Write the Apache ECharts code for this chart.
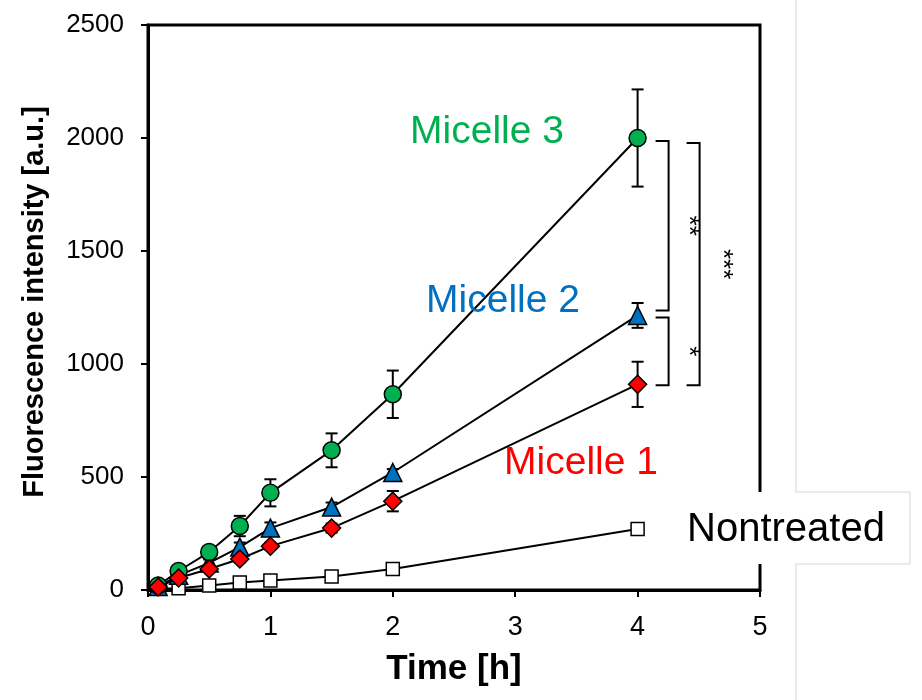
<!DOCTYPE html>
<html>
<head>
<meta charset="utf-8">
<script src="https://cdn.jsdelivr.net/npm/echarts@6/dist/echarts.min.js"></script>
<style>
  html, body { margin: 0; padding: 0; background: #fff; }
  #main { width: 922px; height: 700px; }
</style>
</head>
<body>
<div id="main"></div>
<script>
// 数据
var times = [0.083, 0.25, 0.5, 0.75, 1, 1.5, 2, 4];
var micelle3 = [20, 84, 168, 283, 430, 618, 866, 2000];
var micelle3Err = [5, 10, 20, 45, 60, 75, 105, 215];
var micelle2 = [15, 65, 120, 190, 274, 367, 520, 1215];
var micelle2Err = [5, 8, 15, 20, 25, 20, 15, 55];
var micelle1 = [13, 53, 93, 137, 194, 274, 393, 910];
var micelle1Err = [5, 8, 10, 15, 15, 20, 45, 100];
var nontreated = [5, 8, 20, 33, 42, 60, 93, 270];
var nontreatedErr = [2, 3, 3, 5, 5, 5, 8, 10];
var xTicks = [0, 1, 2, 3, 4, 5];
var yTicks = [0, 500, 1000, 1500, 2000, 2500];

var FONT = '"Liberation Sans", Arial, sans-serif';

function pairs(vals) {
  return times.map(function (t, i) { return [t, vals[i]]; });
}

// 误差线
function errSeries(vals, errs) {
  return {
    type: 'custom',
    z: 1,
    silent: true,
    data: times.map(function (t, i) { return [t, vals[i] - errs[i], vals[i] + errs[i]]; }),
    renderItem: function (params, api) {
      var lo = api.coord([api.value(0), api.value(1)]);
      var hi = api.coord([api.value(0), api.value(2)]);
      var cap = 6;
      var st = { stroke: '#000', lineWidth: 2 };
      return {
        type: 'group',
        children: [
          { type: 'line', shape: { x1: lo[0], y1: lo[1], x2: hi[0], y2: hi[1] }, style: st },
          { type: 'line', shape: { x1: lo[0] - cap, y1: lo[1], x2: lo[0] + cap, y2: lo[1] }, style: st },
          { type: 'line', shape: { x1: hi[0] - cap, y1: hi[1], x2: hi[0] + cap, y2: hi[1] }, style: st }
        ]
      };
    }
  };
}

function lineSeries(vals, symbol, size, color, z) {
  return {
    type: 'line',
    data: pairs(vals),
    symbol: symbol,
    symbolSize: size,
    showAllSymbol: true,
    z: z,
    lineStyle: { color: '#000', width: 2 },
    itemStyle: { color: color, borderColor: '#000', borderWidth: 1.5 }
  };
}

var myChart = echarts.init(document.getElementById('main'));
var option = {
  animation: false,
  backgroundColor: '#fff',
  grid: {
    left: 148, right: 162, top: 25, bottom: 110,
    show: true, borderColor: '#000', borderWidth: 3
  },
  xAxis: {
    type: 'value',
    min: xTicks[0], max: xTicks[xTicks.length - 1], interval: 1,
    name: 'Time [h]',
    nameLocation: 'middle',
    nameGap: 62,
    nameTextStyle: { fontFamily: FONT, fontWeight: 'bold', fontSize: 35, color: '#000' },
    axisLine: { lineStyle: { color: '#000', width: 3 } },
    axisTick: { inside: false, length: 7, lineStyle: { color: '#000', width: 2 } },
    axisLabel: { fontFamily: FONT, fontSize: 27, color: '#000', margin: 24 },
    splitLine: { show: false }
  },
  yAxis: {
    type: 'value',
    min: yTicks[0], max: yTicks[yTicks.length - 1], interval: 500,
    axisLine: { lineStyle: { color: '#000', width: 3 } },
    axisTick: { inside: false, length: 7, lineStyle: { color: '#000', width: 2 } },
    axisLabel: {
      fontFamily: FONT, fontSize: 26, color: '#000', margin: 24,
      formatter: function (v) { return String(v); }
    },
    splitLine: { show: false }
  },
  series: [
    errSeries(nontreated, nontreatedErr),
    errSeries(micelle2, micelle2Err),
    errSeries(micelle3, micelle3Err),
    errSeries(micelle1, micelle1Err),
    lineSeries(nontreated, 'rect', 13, '#fff', 2),
    lineSeries(micelle2, 'triangle', 18, '#0070C0', 3),
    lineSeries(micelle3, 'circle', 17, '#00B050', 4),
    lineSeries(micelle1, 'diamond', 18, '#FF0000', 5)
  ]
};
myChart.setOption(option);

// 标注: 显著性括号、标签、边框
var x4 = myChart.convertToPixel({ gridIndex: 0 }, [4, 0])[0];
function py(v) { return myChart.convertToPixel({ gridIndex: 0 }, [0, v])[1]; }

var brackets = [
  { top: micelle3[7], bot: micelle2[7], tOff: 3, bOff: -5, dx: 18, tx: 51, text: '**' },
  { top: micelle2[7], bot: micelle1[7], tOff: 2, bOff: 1, dx: 18, tx: 51, text: '*' },
  { top: micelle3[7], bot: micelle1[7], tOff: 5, bOff: 1, dx: 49, tx: 85, text: '***' }
];

var elements = [];
brackets.forEach(function (b) {
  var yt = py(b.top) + b.tOff, yb = py(b.bot) + b.bOff;
  var x0 = x4 + b.dx, x1 = x0 + 13;
  elements.push({
    type: 'polyline', z: 10,
    shape: { points: [[x0, yt], [x1, yt], [x1, yb], [x0, yb]] },
    style: { stroke: '#000', lineWidth: 2, fill: null }
  });
  elements.push({
    type: 'text', z: 10,
    x: x4 + b.tx, y: (yt + yb) / 2, rotation: -Math.PI / 2,
    style: { text: b.text, fontFamily: FONT, fontSize: 26, fill: '#000', align: 'center', verticalAlign: 'middle' }
  });
});

// 图片边框 + Nontreated 文本框
elements.push({
  type: 'rect', z: 20,
  shape: { x: 672, y: 492, width: 238, height: 72 },
  style: { fill: '#fff' }
});
elements.push({
  type: 'polyline', z: 21,
  shape: { points: [[796, 0], [796, 492], [910, 492], [910, 564], [796, 564], [796, 700]] },
  style: { stroke: '#d6d6d6', lineWidth: 1, fill: null }
});
elements.push({
  type: 'text', z: 22, x: 687, y: 530,
  style: { text: 'Nontreated', fontFamily: FONT, fontSize: 40, fill: '#000', align: 'left', verticalAlign: 'middle' }
});

var labels = [
  { text: 'Micelle 3', color: '#00B050', x: 487, y: 132 },
  { text: 'Micelle 2', color: '#0070C0', x: 503, y: 301 },
  { text: 'Micelle 1', color: '#FF0000', x: 581, y: 463 }
];
labels.forEach(function (l) {
  elements.push({
    type: 'text', z: 15, x: l.x, y: l.y,
    style: { text: l.text, fontFamily: FONT, fontSize: 39, fill: l.color, align: 'center', verticalAlign: 'middle' }
  });
});

elements.push({
  type: 'text', z: 15, x: 35, y: 302, rotation: Math.PI / 2,
  style: { text: 'Fluorescence intensity [a.u.]', fontFamily: FONT, fontWeight: 'bold', fontSize: 29, fill: '#000', align: 'center', verticalAlign: 'middle' }
});

myChart.setOption({ graphic: elements });
</script>
</body>
</html>
